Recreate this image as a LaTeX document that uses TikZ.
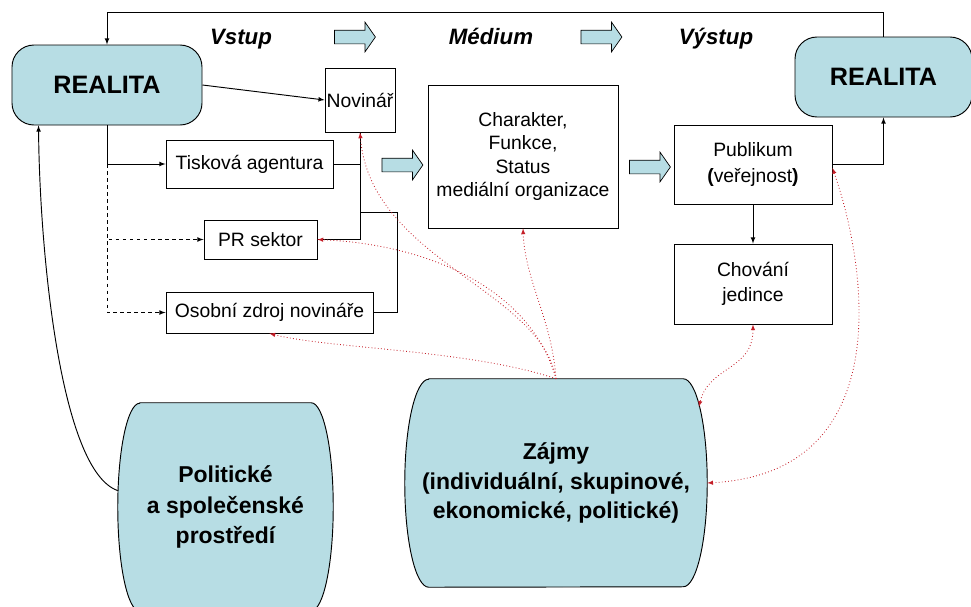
\documentclass[tikz,border=0pt]{standalone}
\usepackage{fontspec}
\setmainfont{Liberation Sans}
\usepackage{tikz}
\usetikzlibrary{shapes, shapes.arrows, arrows, positioning, calc, backgrounds}
\definecolor{realblue}{RGB}{183, 221, 228}
\definecolor{linkred}{RGB}{196, 30, 40}

% barrel outline round a node: node name, depth of the rounded sides
\newcommand{\drawbarrel}[2]{%
  \filldraw[line width=0.8pt, fill=realblue] ([xshift=#2]#1.north west) -- ([xshift=-#2]#1.north east)
    arc[start angle=90, end angle=-90, x radius=#2, y radius=3.12cm]
    -- ([xshift=#2]#1.south west)
    arc[start angle=270, end angle=90, x radius=#2, y radius=3.12cm] -- cycle;}

\begin{document}
\begin{tikzpicture}[x=0.03cm, y=-0.03cm,
						box/.style={draw, line width=0.8pt, inner sep=1pt, align=center, font=\fontsize{16.5}{20}\selectfont},
						real/.style={draw, line width=0.8pt, fill=realblue, rounded corners=0.66cm, minimum height=2.4cm, font=\bfseries\fontsize{21.5}{24}\selectfont},
						barrel/.style={inner sep=0pt, minimum height=6.24cm, align=center, font=\bfseries\fontsize{19.6}{26}\selectfont},
						heading/.style={anchor=base, font=\bfseries\itshape\fontsize{19}{22}\selectfont},
						blockarrow/.style={single arrow, draw, line width=0.6pt, fill=realblue, minimum height=1.23cm, single arrow head extend=0.24cm, single arrow tip angle=110, inner sep=0.195cm},
						arrow/.style={-latex, line width=0.8pt},
						link/.style={line width=0.8pt},
						redarrow/.style={-latex, linkred, dotted, line width=0.7pt},
						redboth/.style={latex-latex, linkred, dotted, line width=0.7pt}
					]
					\useasboundingbox (0,0) rectangle (971,606);

					% Realita
					\node[real, minimum width=5.7cm] (realL) at (107,85) {REALITA};
					\node[real, minimum width=5.31cm] (realR) at (883.5,77) {REALITA};

					% Headings
					\node[heading] (vstup) at (241,44) {Vstup};
					\node[heading] (medium) at (491,44) {Médium};
					\node[heading] (vystup) at (716,44) {Výstup};
					\node[blockarrow] (arrA) at (352.5,37) {};
					\node[blockarrow] (arrB) at (599,37) {};

					% Sources
					\node[box, minimum width=2.1cm, minimum height=1.92cm] (novinar) at (360,100) {Novinář};
					\node[box, minimum width=5.01cm, minimum height=1.44cm] (tisk) at (249.5,164) {Tisková agentura};
					\node[box, minimum width=3.39cm, minimum height=1.17cm] (pr) at (260.5,239.5) {PR sektor};
					\node[box, minimum width=6.21cm, minimum height=1.23cm] (osob) at (269.5,312.5) {Osobní zdroj novináře};

					% Medium
					\node[box, minimum width=5.7cm, minimum height=4.29cm] (charakter) at (523,156.5) {Charakter,\\Funkce,\\Status\\mediální organizace};
					\node[blockarrow] (arrC) at (400,165) {};
					\node[blockarrow] (arrD) at (647.5,167) {};

					% Output
					\node[box, minimum width=4.74cm, minimum height=2.37cm, font=\fontsize{16.5}{22}\selectfont] (publikum) at (753,164.5) {Publikum\\{\bfseries(}veřejnost{\bfseries)}};
					\node[box, minimum width=4.74cm, minimum height=2.4cm, font=\fontsize{16.5}{21}\selectfont] (chovani) at (753,284) {Chování\\jedince};

					% Environment and interests
					\node[barrel, minimum width=6.45cm] (polit) at (225.5,507) {Politické\\a společenské\\prostředí};
					\node[barrel, minimum width=9.06cm, font=\bfseries\fontsize{19.6}{25.5}\selectfont] (zajmy) at (556,483) {Zájmy\\(individuální, skupinové,\\ekonomické, politické)};
					\begin{scope}[on background layer]
						\drawbarrel{polit}{0.66cm}
						\drawbarrel{zajmy}{0.72cm}
					\end{scope}

					\coordinate (bus) at (360,212);

					% Arrows
					\draw[arrow] (realR.north) -- ++(0,-24) -| (realL.north);
					\draw[arrow] (realL.east) -- (novinar.west);
					\draw[arrow] (realL.south) |- (tisk.west);
					\draw[arrow, dashed] (realL.south |- tisk.west) |- (pr.west);
					\draw[arrow, dashed] (realL.south |- tisk.west) |- (osob.west);

					\draw[link] (tisk.east) -- (tisk.east -| novinar.south);
					\draw[link] (novinar.south) |- (pr.east);
					\draw[link] (osob.east) -- ++(24,0) |- (bus);

					\draw[arrow] (publikum.east) -| (realR.south);
					\draw[arrow] (publikum.south) -- (chovani.north);

					\draw[arrow] ([yshift=14pt]polit.west) .. controls +(-58,-20) and +(1,123) .. ([xshift=0.81cm]realL.south west);

					% Interests
					\draw[redarrow] (zajmy.north) .. controls +(-15,-89) and +(10,127) .. (novinar.south);
					\draw[redarrow] (zajmy.north) .. controls +(-25,-89) and +(113,5) .. (pr.east);
					\draw[redarrow] (zajmy.north) .. controls +(-4,-59) and +(2,52) .. (charakter.south);
					\draw[redarrow] (zajmy.north) .. controls +(-85,-29) and +(58,15) .. (osob.south);
					\draw[redboth] (chovani.south) .. controls +(0,46) and +(10,-41) .. ([xshift=-0.25cm,yshift=-0.84cm]zajmy.north east);
					\draw[redboth] ([yshift=-3pt]publikum.east) .. controls +(35,100) and +(190,-10) .. (zajmy.east);
				\end{tikzpicture}
\end{document}
